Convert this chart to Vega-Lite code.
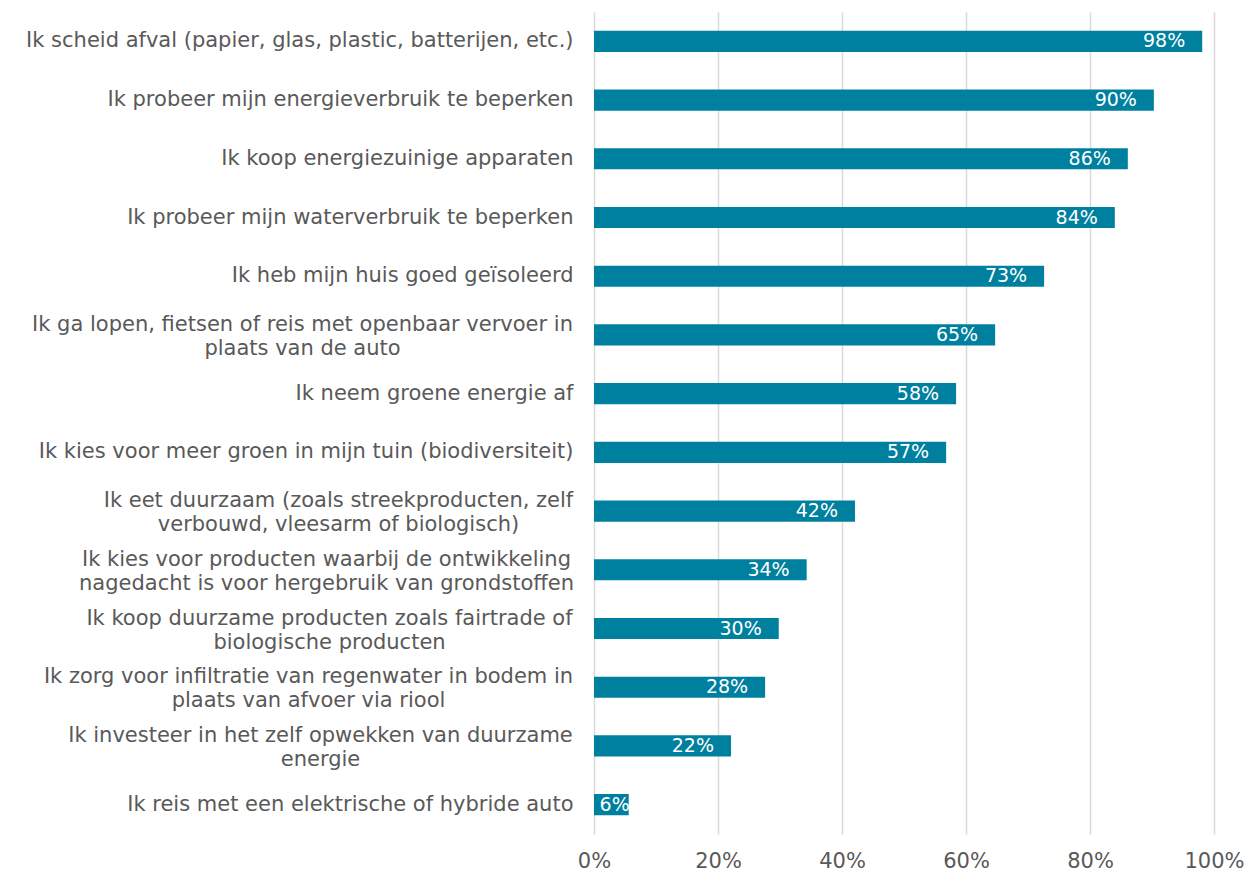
{
  "$schema": "https://vega.github.io/schema/vega-lite/v6.json",
  "autosize": {"type": "none"},
  "padding": {"left": 594, "top": 12, "right": 33, "bottom": 39},
  "width": 620,
  "height": 822,
  "background": "white",
  "data": {
    "values": [
      {"category": "Ik scheid afval (papier, glas, plastic, batterijen, etc.)", "value": 0.981},
      {"category": "Ik probeer mijn energieverbruik te beperken", "value": 0.903},
      {"category": "Ik koop energiezuinige apparaten", "value": 0.861},
      {"category": "Ik probeer mijn waterverbruik te beperken", "value": 0.840},
      {"category": "Ik heb mijn huis goed geïsoleerd", "value": 0.726},
      {"category": "Ik ga lopen, fietsen of reis met openbaar vervoer in\nplaats van de auto", "value": 0.647},
      {"category": "Ik neem groene energie af", "value": 0.584},
      {"category": "Ik kies voor meer groen in mijn tuin (biodiversiteit)", "value": 0.568},
      {"category": "Ik eet duurzaam (zoals streekproducten, zelf\nverbouwd, vleesarm of biologisch)", "value": 0.421},
      {"category": "Ik kies voor producten waarbij de ontwikkeling\nnagedacht is voor hergebruik van grondstoffen", "value": 0.343},
      {"category": "Ik koop duurzame producten zoals fairtrade of\nbiologische producten", "value": 0.298},
      {"category": "Ik zorg voor infiltratie van regenwater in bodem in\nplaats van afvoer via riool", "value": 0.276},
      {"category": "Ik investeer in het zelf opwekken van duurzame\nenergie", "value": 0.221},
      {"category": "Ik reis met een elektrische of hybride auto", "value": 0.056}
    ]
  },
  "encoding": {
    "y": {
      "field": "category",
      "type": "nominal",
      "sort": null,
      "scale": {"paddingInner": 0.64, "paddingOuter": 0.32},
      "axis": {
        "title": null,
        "domain": false,
        "ticks": false,
        "grid": false,
        "labelFont": "DejaVu Sans",
        "labelFontSize": 21,
        "labelColor": "#595959",
        "labelLimit": 0,
        "labelLineHeight": 24,
        "labelExpr": "split(datum.label, '\\n')",
        "labelAlign": {"condition": {"test": "indexof(datum.value, '\\n') >= 0", "value": "center"}, "value": "right"},
        "labelOffset": {"condition": {"test": "indexof(datum.value, '\\n') >= 0", "value": -10}, "value": 0},
        "labelPadding": {
          "condition": [
            {"test": "indexof(datum.value, 'Ik ga lopen') == 0", "value": 292},
            {"test": "indexof(datum.value, 'Ik eet duurzaam') == 0", "value": 256},
            {"test": "indexof(datum.value, 'Ik kies voor producten') == 0", "value": 268},
            {"test": "indexof(datum.value, 'Ik koop duurzame') == 0", "value": 265},
            {"test": "indexof(datum.value, 'Ik zorg voor') == 0", "value": 286},
            {"test": "indexof(datum.value, 'Ik investeer') == 0", "value": 274}
          ],
          "value": 21
        }
      }
    },
    "x": {
      "field": "value",
      "type": "quantitative",
      "scale": {"domain": [0, 1], "nice": false, "zero": true},
      "axis": {
        "title": null,
        "domain": false,
        "ticks": false,
        "values": [0, 0.2, 0.4, 0.6, 0.8, 1],
        "format": ".0%",
        "grid": true,
        "gridColor": "#d9d9d9",
        "gridWidth": 1.5,
        "labelPadding": 16,
        "labelFont": "DejaVu Sans",
        "labelFontSize": 21,
        "labelColor": "#595959",
        "labelFlush": false
      }
    }
  },
  "layer": [
    {"mark": {"type": "bar", "color": "#00809f"}},
    {
      "mark": {
        "type": "text",
        "align": "right",
        "baseline": "middle",
        "dx": {"expr": "datum.value < 0.1 ? 1 : -17"},
        "font": "DejaVu Sans",
        "fontSize": 19,
        "color": "white"
      },
      "encoding": {
        "text": {"field": "value", "type": "quantitative", "format": ".0%"}
      }
    }
  ],
  "config": {"view": {"stroke": null}}
}
